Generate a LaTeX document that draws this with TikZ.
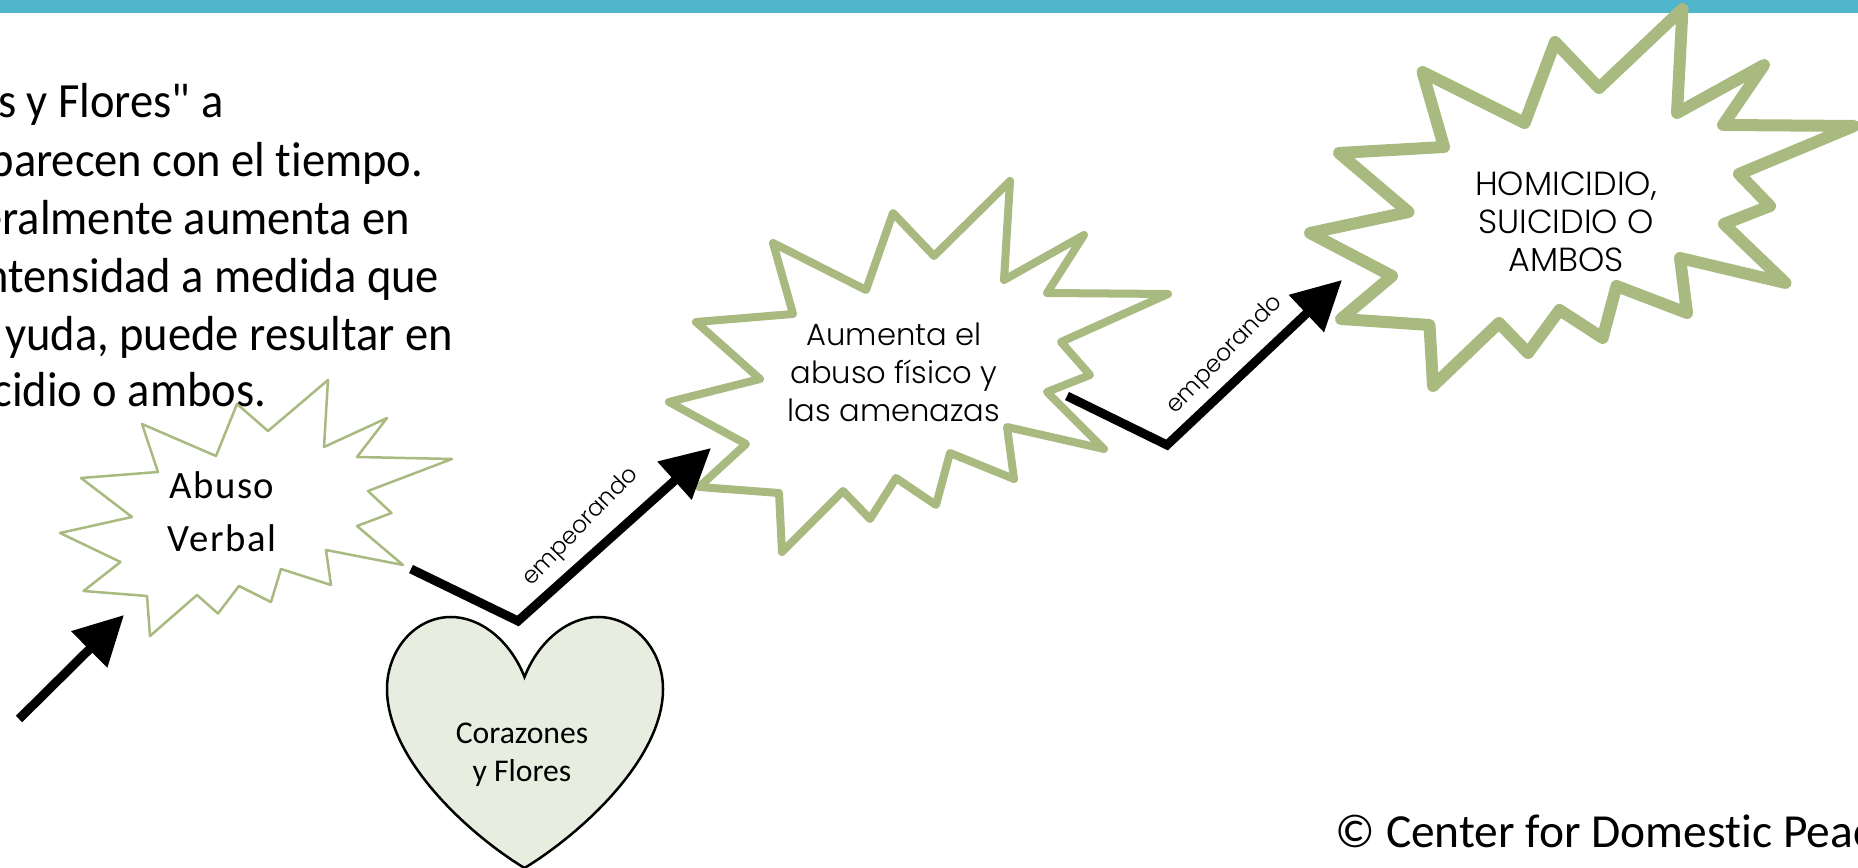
\documentclass[tikz,border=0pt]{standalone}
\usepackage{fontspec}
\setmainfont{Carlito}[Ligatures={TeXOff,NoCommon}]
\newfontfamily\bodyfont{Carlito}[FakeStretch=.945,Ligatures={TeXOff,NoCommon}]
\newfontfamily\spacedfont{Carlito}[LetterSpace=4,Ligatures={TeXOff,NoCommon}]
\newfontfamily\gothicfont{Poppins Light}
\usetikzlibrary{arrows.meta}

\definecolor{barteal}{HTML}{51B5CB}
\definecolor{stargreen}{HTML}{A8BA80}
\definecolor{heartfill}{HTML}{E8EEDF}

\tikzset{
  bodytext/.style={anchor=base east, inner sep=0, font=\bodyfont\fontsize{14}{14}\selectfont},
  starline/.style={draw=stargreen, fill=white, line join=round},
  steparrow/.style={black, line width=.09cm, line join=miter, -{Triangle[length=.49cm,width=.49cm]}},
  worse/.style={inner sep=0, font=\gothicfont\fontsize{6.7}{6.7}\selectfont}
}

\begin{document}
\begin{tikzpicture}[x=.01cm,y=-.01cm]
\useasboundingbox (0,0) rectangle (1858,868);
\fill[barteal] (0,0) rectangle (1858,13);

% text on the left, cut by the page
\node[bodytext] (lineone) at (224,118) {s y Flores" a};
\node[bodytext] (linetwo) at (424,176.5) {parecen con el tiempo.};
\node[bodytext] (linethree) at (411,235) {eralmente aumenta en};
\node[bodytext] (linefour) at (440,293) {ntensidad a medida que};
\node[bodytext] (linefive) at (454,351) {yuda, puede resultar en};
\node[bodytext] (linesix) at (267,407) {cidio o ambos.};

% small star
\draw[starline, line width=.025cm] (328,380)--(324,447)--(387,418)--(357,457)--(452,459)--(368,491)--(391.5,513)--(357,526)--(403,565)--(326,550)--(331,585)--(281,569)--(271,602)--(239,586)--(218,613.5)--(197,595)--(150,636)--(147,596)--(83.5,591)--(120.5,562)--(60,533)--(132,517)--(81,478)--(158,472)--(142,424)--(216,456)--(237,404)--(268,431)--cycle;
\node[inner sep=0, align=center, font=\spacedfont\fontsize{11}{15}\selectfont] (abuso) at (222,512) {Abuso\\Verbal};

% middle star
\draw[starline, line width=.08cm] (1010,181)--(1004,280)--(1084,235)--(1047,293)--(1168,294)--(1061,342)--(1090,375)--(1047,392)--(1104,449)--(1007,427)--(1014,479)--(950,453)--(936,505)--(896,478)--(870,519)--(843,491)--(782,552)--(779,493)--(699,487)--(746,444)--(669,402)--(760,379)--(696,322)--(793,314)--(773,243)--(866,290)--(893,213)--(934,256)--cycle;
\node[inner sep=0, align=center, font=\gothicfont\fontsize{8.7}{10.8}\selectfont] (aumenta) at (894,372) {Aumenta el\\abuso físico y\\las amenazas};

% big star
\draw[starline, line width=.12cm] (1682.5,9)--(1677,113)--(1764,65)--(1723,125)--(1854,126)--(1739,174)--(1770,206)--(1724,224)--(1785.5,283)--(1680,258)--(1687,313)--(1616.5,286)--(1602.6,338)--(1559.5,310)--(1528,353)--(1499,323)--(1433,386)--(1429.5,325)--(1341,319)--(1392,276)--(1310,233)--(1408.5,212)--(1339,153)--(1444,147)--(1422.5,72)--(1524.6,123)--(1555,42)--(1599,88)--cycle;
\node[inner sep=0, align=center, font=\gothicfont\fontsize{9.5}{10.8}\selectfont] (homicidio) at (1566,222) {HOMICIDIO,\\SUICIDIO O\\AMBOS};

% heart
\draw[black, line width=.025cm, fill=heartfill] (524.5,677) .. controls (510,640) and (480,617) .. (451,617) .. controls (415,617) and (387,650) .. (387,689) .. controls (387,760) and (470,835) .. (524.5,868) .. controls (579,835) and (663,760) .. (663,689) .. controls (663,650) and (634,617) .. (598,617) .. controls (569,617) and (539,640) .. (524.5,677) -- cycle;
\node[inner sep=0, align=center, font=\fontsize{9}{10.8}\selectfont] (corazones) at (522,755) {Corazones\\y Flores};

% arrows
\coordinate (startone) at (19,719);
\coordinate (tipone) at (124,615);
\coordinate (starttwo) at (411,569);
\coordinate (cornertwo) at (518,621);
\coordinate (tiptwo) at (711,448);
\coordinate (startthree) at (1067,396);
\coordinate (cornerthree) at (1167,445);
\coordinate (tipthree) at (1342,280);
\draw[steparrow] (startone) -- (tipone);
\draw[steparrow] (starttwo) -- (cornertwo) -- (tiptwo);
\draw[steparrow] (startthree) -- (cornerthree) -- (tipthree);

\node[worse, rotate=46] (worsetwo) at (581,527) {empeorando};
\node[worse, rotate=46] (worsethree) at (1225,355) {empeorando};

\node[anchor=base west, inner sep=0, font=\fontsize{13.5}{14}\selectfont] (copyline) at (1335,848) {© Center for Domestic Peac};
\end{tikzpicture}
\end{document}
